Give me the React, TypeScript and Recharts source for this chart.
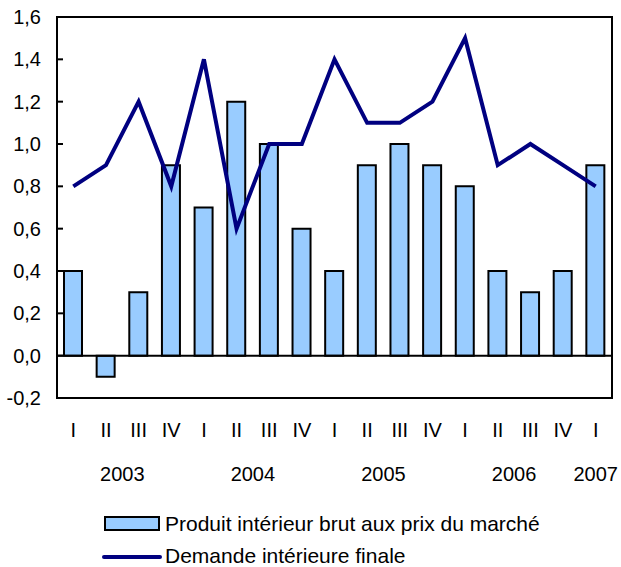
import { ComposedChart, Bar, Line, XAxis, YAxis, ReferenceLine, ReferenceArea, Legend } from "recharts";

const quarters = ["I", "II", "III", "IV", "I", "II", "III", "IV", "I", "II", "III", "IV", "I", "II", "III", "IV", "I"];
const years = ["2003", "2003", "2003", "2003", "2004", "2004", "2004", "2004", "2005", "2005", "2005", "2005", "2006", "2006", "2006", "2006", "2007"];
const gdp = [0.4, -0.1, 0.3, 0.9, 0.7, 1.2, 1.0, 0.6, 0.4, 0.9, 1.0, 0.9, 0.8, 0.4, 0.3, 0.4, 0.9];
const demand = [0.8, 0.9, 1.2, 0.8, 1.4, 0.6, 1.0, 1.0, 1.4, 1.1, 1.1, 1.2, 1.5, 0.9, 1.0, 0.9, 0.8];
const yTicks = [-0.2, 0, 0.2, 0.4, 0.6, 0.8, 1.0, 1.2, 1.4, 1.6];

const data = quarters.map((q, i) => ({
  key: `${years[i]}-${q}`,
  quarter: q,
  year: years[i],
  gdp: gdp[i],
  demand: demand[i],
}));

const W = 621;
const H = 567;
const LEGEND_H = 57;
const X_AXIS_H = 90;
// plot box: left 57, right 612, top 17, bottom 398
const M = { top: 17, right: 9, left: 0, bottom: 169 - LEGEND_H - X_AXIS_H };
const Y_AXIS_W = 57;
const BAND = (W - M.left - M.right - Y_AXIS_W) / data.length;
const FONT = "'Liberation Sans', Arial, Helvetica, sans-serif";
const FS = 20;

const QuarterTick = (props: any) => {
  const { x, y, payload } = props;
  const i = payload.index;
  const row = data[i];
  const isFirst = i === 0 || data[i - 1].year !== row.year;
  let yearLabel = null;
  if (isFirst) {
    const count = data.filter((d) => d.year === row.year).length;
    yearLabel = (
      <text x={x + ((count - 1) / 2) * BAND} y={y + 83} textAnchor="middle" fontSize={FS} fill="#000" fontFamily={FONT}>
        {row.year}
      </text>
    );
  }
  return (
    <g>
      <text x={x} y={y + 39} textAnchor="middle" fontSize={FS} fill="#000" fontFamily={FONT}>
        {row.quarter}
      </text>
      {yearLabel}
    </g>
  );
};

const ValueTick = (props: any) => {
  const { x, y, payload } = props;
  return (
    <g>
      <line x1={x} x2={x + 6} y1={y} y2={y} stroke="#000" strokeWidth={2} />
      <text x={x - 16} y={y + 7} textAnchor="end" fontSize={FS} fill="#000" fontFamily={FONT}>
        {payload.value.toFixed(1).replace(".", ",")}
      </text>
    </g>
  );
};

const LegendBox = () => (
  <svg width={W} height={LEGEND_H} style={{ display: "block", overflow: "visible" }}>
    <rect x={105} y={7} width={54} height={13} fill="#99CCFF" stroke="#000" strokeWidth={2} />
    <text x={165} y={21} fontSize={21} fill="#000" fontFamily={FONT}>
      Produit intérieur brut aux prix du marché
    </text>
    <line x1={104} x2={160} y1={47} y2={47} stroke="#000080" strokeWidth={4} strokeLinecap="round" />
    <text x={165} y={53} fontSize={21} fill="#000" fontFamily={FONT}>
      Demande intérieure finale
    </text>
  </svg>
);

export default function App() {
  return (
    <div style={{ position: "absolute", left: 0, top: 0, background: "#fff" }}>
      <ComposedChart width={W} height={H} data={data} margin={M}>
        <XAxis
          dataKey="key"
          interval={0}
          axisLine={false}
          tickLine={false}
          tickSize={0}
          tickMargin={0}
          height={X_AXIS_H}
          tick={<QuarterTick />}
        />
        <YAxis
          domain={[-0.2, 1.6]}
          ticks={yTicks}
          interval={0}
          width={Y_AXIS_W}
          axisLine={false}
          tickLine={false}
          tickSize={0}
          tickMargin={0}
          tick={<ValueTick />}
        />
        <Legend
          verticalAlign="bottom"
          height={LEGEND_H}
          content={<LegendBox />}
          wrapperStyle={{ position: "absolute", left: 0, top: 510, bottom: "auto", width: W, height: LEGEND_H }}
        />
        <Bar dataKey="gdp" name="Produit intérieur brut aux prix du marché" fill="#99CCFF" stroke="#000" strokeWidth={2} barSize={18} isAnimationActive={false} />
        <ReferenceLine y={0} stroke="#000" strokeWidth={2} />
        <Line dataKey="demand" name="Demande intérieure finale" type="linear" stroke="#000080" strokeWidth={4} dot={false} activeDot={false} isAnimationActive={false} />
        <ReferenceArea y1={-0.2} y2={1.6} fill="none" stroke="#000" strokeWidth={2} ifOverflow="visible" />
      </ComposedChart>
    </div>
  );
}
